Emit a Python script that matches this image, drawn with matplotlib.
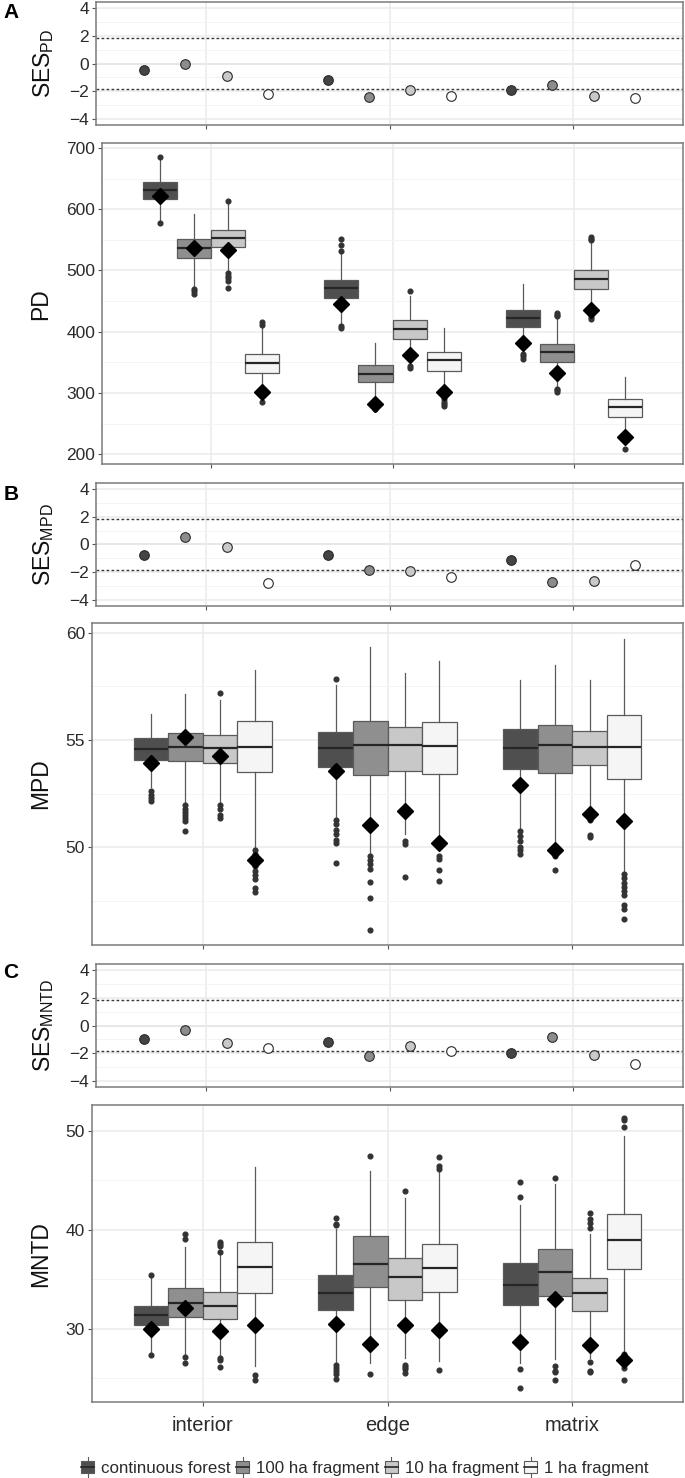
"""Phylogenetic diversity panels (PD, MPD, MNTD) by site and fragment size."""
import matplotlib
matplotlib.use('Agg')
import matplotlib.pyplot as plt
from matplotlib.legend_handler import HandlerBase
from matplotlib.lines import Line2D
from matplotlib.patches import Patch, Rectangle

plt.rcParams['font.family'] = ['Liberation Sans', 'DejaVu Sans']
plt.rcParams['mathtext.fontset'] = 'custom'
plt.rcParams['mathtext.rm'] = 'Liberation Sans'

W, H = 685, 1478

SITES = ['interior', 'edge', 'matrix']
TREATMENTS = ['continuous forest', '100 ha fragment', '10 ha fragment', '1 ha fragment']

BOX_FILL = ['#4f4f4f', '#8f8f8f', '#c8c8c8', '#f5f5f5']
POINT_FILL = ['#444444', '#8c8c8c', '#c9c9c9', '#ffffff']
EDGE = '#5a5a5a'
BORDER = '#7a7a7a'
GRID_MAJOR = '#ebebeb'
GRID_MINOR = '#f4f4f4'
TEXT = '#2b2b2b'

# ------------------------------------------------------------
# SES values (per site: continuous, 100 ha, 10 ha, 1 ha)
# ------------------------------------------------------------
SES_PD = [[-0.50, 0.00, -0.90, -2.16],
          [-1.16, -2.43, -1.90, -2.36],
          [-1.93, -1.52, -2.31, -2.47]]
SES_MPD = [[-0.76, 0.55, -0.21, -2.76],
           [-0.76, -1.83, -1.90, -2.33],
           [-1.10, -2.71, -2.60, -1.45]]
SES_MNTD = [[-0.98, -0.33, -1.26, -1.62],
            [-1.19, -2.21, -1.50, -1.81],
            [-2.00, -0.79, -2.10, -2.76]]
SES_LIMIT = 1.8

# ------------------------------------------------------------
# PD null distributions
# ------------------------------------------------------------
PD_WHISLO = [[579, 474, 499, 308], [411, 286, 348, 294], [368, 310, 427, 236]]
PD_Q1 = [[617, 520, 538, 332], [455, 318, 388, 335], [407, 351, 470, 261]]
PD_MED = [[631, 537, 553, 349], [471, 331, 404, 353], [422, 367, 486, 277]]
PD_Q3 = [[644, 551, 566, 363], [485, 346, 419, 367], [436, 380, 501, 290]]
PD_WHISHI = [[683, 592, 609, 407], [529, 382, 458, 406], [478, 423, 546, 326]]
PD_FLIERS = [
    [[685, 577], [470, 466, 462], [613, 495, 491, 487, 483, 472], [415, 411, 286]],
    [[551, 541, 532, 409, 406], [279, 276, 273], [467, 344, 341], [290, 286, 282, 278]],
    [[364, 360, 355], [430, 428, 426, 307, 304, 302], [555, 552, 549, 424, 421], [208]],
]
PD_OBS = [[622, 536, 534, 302], [445, 282, 362, 302], [381, 333, 435, 228]]

# ------------------------------------------------------------
# MPD null distributions
# ------------------------------------------------------------
MPD_WHISLO = [[52.80, 52.10, 52.05, 50.00], [51.40, 49.75, 50.60, 50.40], [50.90, 50.15, 51.65, 48.90]]
MPD_Q1 = [[54.07, 54.00, 53.93, 53.50], [53.73, 53.37, 53.57, 53.39], [53.65, 53.47, 53.82, 53.19]]
MPD_MED = [[54.58, 54.69, 54.60, 54.67], [54.63, 54.77, 54.75, 54.70], [54.60, 54.77, 54.67, 54.67]]
MPD_Q3 = [[55.08, 55.34, 55.22, 55.88], [55.37, 55.88, 55.62, 55.82], [55.53, 55.71, 55.43, 56.18]]
MPD_WHISHI = [[56.19, 57.15, 56.86, 58.24], [57.56, 59.34, 58.13, 58.70], [57.79, 58.47, 57.78, 59.71]]
MPD_FLIERS = [
    [[52.60, 52.45, 52.30, 52.15],
     [51.95, 51.80, 51.65, 51.50, 51.35, 51.20, 50.74],
     [57.17, 51.95, 51.80, 51.50, 51.35],
     [49.85, 49.70, 49.55, 49.40, 49.25, 49.10, 48.90, 48.70, 48.50, 48.10, 47.90]],
    [[57.85, 51.25, 51.10, 50.80, 50.60, 50.35, 50.20, 49.26],
     [49.57, 49.40, 49.20, 49.00, 48.40, 47.64, 46.12],
     [50.27, 50.15, 48.61],
     [49.60, 49.45, 48.95, 48.41]],
    [[50.74, 50.50, 50.30, 50.00, 49.85, 49.70],
     [50.05, 49.80, 49.60, 48.95],
     [51.28, 50.58, 50.47],
     [48.77, 48.55, 48.35, 48.15, 47.95, 47.75, 47.30, 47.10, 46.66]],
]
MPD_OBS = [[53.93, 55.12, 54.27, 49.42], [53.54, 51.02, 51.68, 50.21], [52.89, 49.87, 51.56, 51.20]]

# ------------------------------------------------------------
# MNTD null distributions
# ------------------------------------------------------------
MNTD_WHISLO = [[27.7, 27.4, 27.3, 26.2], [26.6, 26.5, 27.0, 26.7], [26.5, 26.9, 27.0, 27.6]]
MNTD_Q1 = [[30.35, 31.23, 30.99, 33.61], [31.90, 34.18, 32.94, 33.68], [32.40, 33.34, 31.77, 36.00]]
MNTD_MED = [[31.36, 32.60, 32.27, 36.24], [33.60, 36.50, 35.20, 36.17], [34.45, 35.73, 33.60, 38.92]]
MNTD_Q3 = [[32.34, 34.12, 33.68, 38.76], [35.40, 39.36, 37.14, 38.60], [36.64, 38.08, 35.10, 41.61]]
MNTD_WHISHI = [[35.3, 38.25, 37.6, 46.32], [40.1, 45.98, 43.16, 45.9], [42.5, 44.57, 39.53, 49.48]]
MNTD_FLIERS = [
    [[35.46, 27.33], [39.53, 39.06, 27.10, 26.53],
     [38.76, 38.55, 38.40, 37.80, 27.00, 26.80, 26.10], [25.33, 24.83]],
    [[41.20, 40.60, 40.45, 26.33, 26.05, 25.75, 25.40, 24.90], [47.43, 25.47],
     [43.90, 26.30, 26.10, 25.90, 25.50], [47.36, 46.45, 46.10, 25.83]],
    [[44.80, 43.30, 25.93, 23.97], [45.24, 26.20, 25.70, 25.60, 24.87],
     [41.70, 41.08, 40.65, 40.20, 26.67, 25.77, 25.60],
     [51.30, 51.10, 50.40, 27.43, 27.20, 26.80, 26.40, 26.03, 24.80]],
]
MNTD_OBS = [[29.98, 32.07, 29.82, 30.35], [30.50, 28.47, 30.39, 29.92], [28.64, 33.00, 28.37, 26.80]]

BOX_OFFSETS = [-0.28125, -0.09375, 0.09375, 0.28125]
BOX_WIDTH = 0.1875
POINT_OFFSETS = [-0.3375, -0.1125, 0.1125, 0.3375]


def add_axes(left, top, right, bottom):
    return plt.gcf().add_axes([left / W, 1 - bottom / H, (right - left) / W, (bottom - top) / H])


def style_axes(ax, major, minor, ylim, show_x=False):
    ax.set_xlim(0.4, 3.6)
    ax.set_ylim(*ylim)
    ax.set_yticks(major)
    ax.set_yticks(minor, minor=True)
    ax.set_xticks([1, 2, 3])
    ax.set_xticklabels(SITES if show_x else [])
    ax.set_axisbelow(True)
    ax.grid(which='major', color=GRID_MAJOR, linewidth=1.1)
    ax.grid(which='minor', axis='y', color=GRID_MINOR, linewidth=0.7)
    ax.tick_params(which='major', length=3, width=0.8, color='#555555',
                   labelsize=12.5, labelcolor=TEXT, pad=2)
    ax.tick_params(axis='x', labelsize=14.5, pad=7)
    ax.tick_params(which='minor', length=0)
    for spine in ax.spines.values():
        spine.set_color(BORDER)
        spine.set_linewidth(1.1)


def draw_ses(ax, values):
    ax.axhline(0, color='#dedede', linewidth=1.4, zorder=0.5)
    for lim in (SES_LIMIT, -SES_LIMIT):
        ax.axhline(lim, color='#3a3a3a', linestyle=(0, (2, 1.6)), linewidth=1.0, zorder=1)
    for s, site_vals in enumerate(values):
        for t, v in enumerate(site_vals):
            ax.scatter(s + 1 + POINT_OFFSETS[t], v, s=48, color=POINT_FILL[t],
                       edgecolor='#2a2a2a', linewidth=0.8, zorder=3)
    style_axes(ax, [-4, -2, 0, 2, 4], [-3, -1, 1, 3], (-4.4, 4.4))


def draw_boxes(ax, whislo, q1, med, q3, whishi, fliers, obs, major, minor, ylim, show_x=False):
    for s in range(3):
        for t in range(4):
            stats = [dict(whislo=whislo[s][t], q1=q1[s][t], med=med[s][t], q3=q3[s][t],
                          whishi=whishi[s][t], fliers=fliers[s][t])]
            pos = s + 1 + BOX_OFFSETS[t]
            ax.bxp(stats, positions=[pos], widths=BOX_WIDTH, patch_artist=True,
                   showcaps=False, manage_ticks=False,
                   boxprops=dict(facecolor=BOX_FILL[t], edgecolor=EDGE, linewidth=0.9),
                   medianprops=dict(color='#262626', linewidth=1.6),
                   whiskerprops=dict(color=EDGE, linewidth=0.9),
                   flierprops=dict(marker='o', markersize=3.4, markerfacecolor='#333333',
                                   markeredgecolor='#333333', linestyle='none'))
            ax.plot(pos, obs[s][t], marker='D', markersize=8.5, color='black',
                    linestyle='none', zorder=5)
    style_axes(ax, major, minor, ylim, show_x)


class BoxKeyHandler(HandlerBase):
    def create_artists(self, legend, orig_handle, xdescent, ydescent, width, height,
                       fontsize, trans):
        w = width * 0.75
        x0 = -xdescent + (width - w) / 2
        cx = x0 + w / 2
        box = Rectangle((x0, -ydescent + height * 0.1), w, height * 0.8,
                        facecolor=orig_handle.get_facecolor(), edgecolor=EDGE,
                        linewidth=0.8, transform=trans)
        med = Line2D([x0, x0 + w], [-ydescent + height * 0.5] * 2, color='#262626',
                     linewidth=1.2, transform=trans)
        top = Line2D([cx, cx], [-ydescent + height * 0.9, -ydescent + height * 1.25],
                     color=EDGE, linewidth=0.8, transform=trans)
        bot = Line2D([cx, cx], [-ydescent + height * 0.1, -ydescent - height * 0.25],
                     color=EDGE, linewidth=0.8, transform=trans)
        return [top, bot, box, med]


fig = plt.figure(figsize=(W / 100, H / 100), dpi=100)
fig.patch.set_facecolor('white')

# ============================================================
# A: PD
# ============================================================
ax = add_axes(96, 2, 683, 125)
draw_ses(ax, SES_PD)
ax = add_axes(102, 143, 683, 464)
draw_boxes(ax, PD_WHISLO, PD_Q1, PD_MED, PD_Q3, PD_WHISHI, PD_FLIERS, PD_OBS,
           [200, 300, 400, 500, 600, 700], [250, 350, 450, 550, 650], (184, 708))

# ============================================================
# B: MPD
# ============================================================
ax = add_axes(96, 483, 683, 606)
draw_ses(ax, SES_MPD)
ax = add_axes(92, 623, 683, 945)
draw_boxes(ax, MPD_WHISLO, MPD_Q1, MPD_MED, MPD_Q3, MPD_WHISHI, MPD_FLIERS, MPD_OBS,
           [50, 55, 60], [47.5, 52.5, 57.5], (45.44, 60.45))

# ============================================================
# C: MNTD
# ============================================================
ax = add_axes(96, 964, 683, 1087)
draw_ses(ax, SES_MNTD)
ax = add_axes(92, 1105, 683, 1402)
draw_boxes(ax, MNTD_WHISLO, MNTD_Q1, MNTD_MED, MNTD_Q3, MNTD_WHISHI, MNTD_FLIERS, MNTD_OBS,
           [30, 40, 50], [25, 35, 45], (22.6, 52.6), show_x=True)

# labels
for x, y, text in [(44, 63, 'SES$_{\\mathrm{PD}}$'), (41, 304, 'PD'),
                   (44, 545, 'SES$_{\\mathrm{MPD}}$'), (41, 784, 'MPD'),
                   (44, 1025, 'SES$_{\\mathrm{MNTD}}$'), (41, 1254, 'MNTD')]:
    fig.text(x / W, 1 - y / H, text, rotation=90, ha='center', va='center',
             fontsize=16.5, color='#111111')
for y, letter in [(13, 'A'), (495, 'B'), (973, 'C')]:
    fig.text(11 / W, 1 - y / H, letter, ha='center', va='center', fontsize=15,
             fontweight='bold', color='black')

handles = [Patch(facecolor=c, label=lab) for c, lab in zip(BOX_FILL, TREATMENTS)]
fig.legend(handles=handles, handler_map={Patch: BoxKeyHandler()}, loc='center',
           bbox_to_anchor=(364 / W, 1 - 1468 / H), ncol=4, frameon=False,
           fontsize=12.2, handlelength=1.0, handleheight=0.9, handletextpad=0.3,
           columnspacing=0.2, labelcolor=TEXT)

fig.savefig('out.png', dpi=100)
